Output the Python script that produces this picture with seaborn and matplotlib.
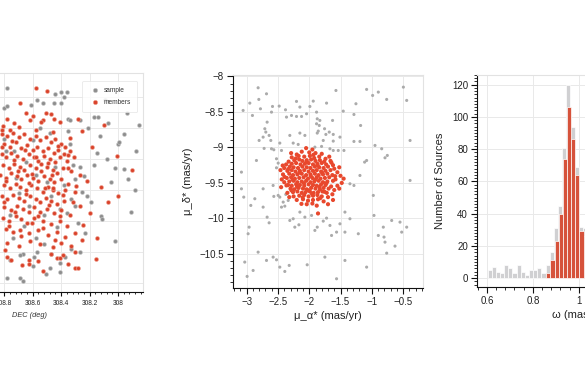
import numpy as np
import pandas as pd
import seaborn as sns
import matplotlib
matplotlib.use("Agg")
import matplotlib.pyplot as plt
from matplotlib.ticker import AutoMinorLocator, FuncFormatter, MultipleLocator

# ---------------- data ----------------
# Left panel: sample (gray) and members (red), DEC (deg) vs y
left_sample_dec = [308.78, 308.57, 308.61, 308.53, 308.45, 308.44, 308.40, 308.36, 308.38, 308.40, 308.80, 308.78,
                   308.35, 308.34, 308.27, 308.17, 308.14, 308.07, 308.13, 308.21, 308.00, 307.96, 307.99, 308.02,
                   307.955, 307.93, 307.91, 308.02, 308.12, 308.11, 308.22, 308.25, 308.27, 308.24, 308.30, 308.33,
                   308.30, 308.28, 308.23, 308.33, 308.27, 308.37, 308.41, 308.47, 308.52, 308.57, 308.67, 308.69,
                   308.76, 308.78, 308.69, 308.67, 308.51, 308.48, 308.41, 308.60, 308.59, 307.87, 307.88, 308.05,
                   308.08, 308.17, 308.19, 308.15, 308.35, 307.85, 307.94, 308.09, 308.80, 308.73, 308.65, 308.58,
                   308.50, 308.44, 308.38, 308.70, 308.63, 308.52, 308.47, 308.41, 308.76, 308.66, 308.58, 308.34,
                   308.32, 308.36, 308.79, 308.55, 308.48, 308.72, 308.60, 308.43, 308.74]
left_sample_y = [44.86, 44.78, 44.75, 44.76, 44.76, 44.82, 44.83, 44.83, 44.80, 44.76, 44.73, 44.74,
                 44.66, 44.65, 44.65, 44.67, 44.67, 44.63, 44.55, 44.60, 44.50, 44.56, 44.51, 44.34,
                 44.335, 44.27, 44.06, 43.87, 44.03, 44.01, 44.16, 44.19, 44.35, 44.29, 44.27, 44.14,
                 44.10, 43.99, 43.92, 43.82, 43.80, 43.77, 43.73, 43.79, 43.85, 43.80, 43.79, 43.78,
                 43.75, 43.63, 43.63, 43.61, 43.66, 43.70, 43.67, 43.71, 43.77, 44.45, 44.20, 44.25,
                 44.40, 44.36, 44.12, 44.44, 44.58, 44.62, 44.70, 44.78, 44.53, 44.45, 44.38, 44.30,
                 44.25, 44.35, 44.23, 44.18, 44.10, 44.04, 44.16, 44.08, 44.04, 43.97, 43.89, 44.50,
                 44.36, 44.05, 44.45, 44.60, 44.57, 44.28, 44.52, 43.96, 43.89]

left_member_dec = [308.58, 308.50, 308.69, 308.65, 308.60, 308.51, 308.47, 308.53, 308.54, 308.45, 308.41, 308.62, 308.78, 308.73, 308.81, 308.76,
                   308.82, 308.78, 308.74, 308.70, 308.66, 308.62, 308.58, 308.55, 308.51, 308.47, 308.44, 308.40, 308.37,
                   308.80, 308.76, 308.72, 308.68, 308.64, 308.60, 308.57, 308.53, 308.49, 308.45, 308.42, 308.38, 308.34,
                   308.82, 308.79, 308.75, 308.71, 308.67, 308.63, 308.59, 308.56, 308.52, 308.48, 308.44, 308.41, 308.36, 308.31,
                   308.81, 308.77, 308.73, 308.69, 308.66, 308.62, 308.58, 308.54, 308.50, 308.46, 308.43, 308.39, 308.33, 308.27,
                   308.83, 308.79, 308.75, 308.71, 308.68, 308.64, 308.60, 308.56, 308.52, 308.48, 308.45, 308.40, 308.35, 308.22,
                   308.80, 308.76, 308.72, 308.69, 308.65, 308.61, 308.57, 308.53, 308.49, 308.46, 308.42, 308.37, 308.30,
                   308.82, 308.78, 308.74, 308.70, 308.66, 308.62, 308.58, 308.55, 308.51, 308.47, 308.43, 308.38, 308.32,
                   308.80, 308.75, 308.71, 308.67, 308.63, 308.59, 308.55, 308.50, 308.45, 308.40, 308.34,
                   308.81, 308.77, 308.72, 308.68, 308.64, 308.59, 308.53, 308.47, 308.41, 308.36,
                   308.79, 308.74, 308.69, 308.63, 308.56, 308.49, 308.43, 308.37, 308.30,
                   308.78, 308.70, 308.62, 308.55, 308.46, 308.40, 308.33, 308.25,
                   308.78, 308.75, 308.63, 308.63, 308.53, 308.47, 308.43, 308.41, 308.39, 308.35, 308.30, 308.28, 308.30, 308.155,
                   307.90, 308.01, 308.00, 308.07, 308.15, 308.18, 308.12, 308.20, 308.25, 308.10, 308.28,
                   308.815, 308.735, 308.655, 308.575, 308.495, 308.425, 308.355, 308.785, 308.705, 308.625,
                   308.545, 308.465, 308.385, 308.805, 308.725, 308.645, 308.565, 308.485, 308.405, 308.765,
                   308.685, 308.605, 308.525, 308.445, 308.815, 308.695, 308.575, 308.455, 308.335, 308.295,
                   308.265, 308.245, 308.795, 308.675, 308.565, 308.515, 308.355, 308.745, 308.605, 308.455]
left_member_y = [44.86, 44.84, 44.76, 44.70, 44.68, 44.70, 44.69, 44.65, 44.64, 44.66, 44.64, 44.65, 44.66, 44.63, 44.61, 44.59,
                 44.56, 44.55, 44.57, 44.54, 44.56, 44.53, 44.55, 44.52, 44.54, 44.51, 44.53, 44.50, 44.48,
                 44.50, 44.48, 44.51, 44.47, 44.49, 44.46, 44.48, 44.45, 44.47, 44.44, 44.46, 44.43, 44.45,
                 44.43, 44.41, 44.44, 44.42, 44.40, 44.43, 44.41, 44.39, 44.42, 44.40, 44.38, 44.41, 44.39, 44.41,
                 44.36, 44.34, 44.37, 44.35, 44.33, 44.36, 44.34, 44.32, 44.35, 44.33, 44.31, 44.34, 44.32, 44.30,
                 44.30, 44.28, 44.31, 44.29, 44.27, 44.30, 44.28, 44.26, 44.29, 44.27, 44.25, 44.27, 44.24, 44.26,
                 44.23, 44.21, 44.24, 44.22, 44.20, 44.23, 44.21, 44.19, 44.22, 44.20, 44.18, 44.20, 44.19,
                 44.16, 44.14, 44.17, 44.15, 44.13, 44.16, 44.14, 44.12, 44.15, 44.13, 44.11, 44.13, 44.12,
                 44.09, 44.07, 44.10, 44.08, 44.06, 44.09, 44.06, 44.08, 44.05, 44.07, 44.04,
                 44.02, 44.00, 44.03, 44.01, 43.99, 44.02, 44.00, 43.98, 44.00, 43.97,
                 43.95, 43.93, 43.94, 43.92, 43.94, 43.91, 43.93, 43.90, 43.92,
                 43.86, 43.84, 43.87, 43.85, 43.83, 43.86, 43.84, 43.88,
                 43.77, 43.75, 43.75, 43.72, 43.68, 43.79, 43.76, 43.76, 43.78, 43.72, 43.70, 43.70, 43.80, 43.755,
                 44.33, 44.42, 44.16, 44.12, 43.89, 44.48, 44.22, 44.05, 44.58, 44.62, 44.66,
                 44.475, 44.395, 44.455, 44.415, 44.375, 44.485, 44.345, 44.255, 44.325, 44.245,
                 44.365, 44.295, 44.165, 44.125, 44.055, 44.175, 44.035, 44.105, 44.035, 43.965,
                 43.905, 43.985, 43.955, 43.875, 44.585, 44.605, 44.585, 44.575, 44.535, 44.225,
                 44.095, 43.975, 43.815, 43.715, 43.745, 44.215, 44.425, 44.515, 44.305, 44.215]

# Middle panel: proper motions
pm_sample_ra = [-2.818, -2.684, -2.951, -2.807, -3.058, -2.909, -2.781, -2.588, -2.481, -2.604, -2.380, -2.204, -2.150,
                -1.990, -1.936, -1.723, -1.573, -1.253, -1.082, -0.986, -0.895, -0.761, -0.494, -0.441, -2.364, -2.284,
                -2.204, -2.123, -2.043, -1.883, -1.627, -1.456, -1.285, -2.674, -2.711, -2.695, -2.642, -2.802, -2.738,
                -2.615, -2.471, -2.311, -2.150, -2.070, -1.883, -1.840, -1.856, -1.755, -1.680, -1.616, -1.734, -1.776,
                -1.872, -1.616, -1.285, -1.189, -1.178, -1.872, -1.830, -1.509, -2.722, -2.604, -2.567, -2.444, -2.845,
                -2.524, -2.497, -2.524, -2.257, -2.177, -1.910, -1.803, -1.669, -1.616, -1.536, -1.445, -0.948, -0.841,
                -0.788, -0.751, -1.082, -1.114, -1.189, -1.285, -1.349, -3.085, -3.085, -3.048, -2.935, -2.871, -2.738,
                -2.738, -2.674, -2.642, -2.578, -2.567, -2.497, -2.471, -2.444, -2.417, -2.391, -2.375, -2.337, -2.311,
                -2.257, -2.231, -2.166, -2.150, -2.070, -1.963, -1.910, -1.872, -1.776, -1.723, -1.669, -1.643, -1.563,
                -1.509, -1.429, -1.429, -1.349, -1.215, -0.975, -0.964, -0.895, -0.815, -0.804, -0.788, -0.761, -0.681,
                -0.628, -0.548, -0.521, -0.441, -0.387, -0.387, -2.978, -2.962, -2.818, -2.684, -2.578, -2.524, -2.471,
                -2.391, -2.321, -2.033, -1.750, -1.563, -1.429, -1.082, -3.032, -2.994, -2.898]
pm_sample_dec = [-8.160, -8.245, -8.376, -8.324, -8.479, -8.550, -8.456, -8.423, -8.418, -8.503, -8.470, -8.352, -8.432,
                 -8.423, -8.348, -8.376, -8.198, -8.385, -8.183, -8.268, -8.221, -8.324, -8.151, -8.338, -8.573, -8.550,
                 -8.564, -8.564, -8.526, -8.503, -8.620, -8.489, -8.536, -8.644, -8.737, -8.784, -8.831, -8.902, -8.855,
                 -8.902, -8.939, -8.831, -8.798, -8.831, -8.667, -8.691, -8.770, -8.737, -8.784, -8.817, -8.817, -8.902,
                 -8.798, -8.911, -8.916, -8.916, -8.691, -8.597, -8.620, -8.855, -9.014, -9.019, -9.033, -9.043, -9.184,
                 -9.160, -9.221, -9.287, -8.939, -8.958, -8.996, -8.986, -9.019, -9.043, -9.043, -9.043, -8.972, -9.019,
                 -9.146, -9.113, -9.184, -9.207, -9.395, -9.536, -9.512, -9.348, -9.583, -9.700, -9.817, -9.723, -9.583,
                 -9.841, -9.982, -10.062, -9.536, -9.690, -9.676, -9.700, -9.841, -9.770, -9.827, -9.662, -9.747, -10.029,
                 -10.005, -10.123, -10.090, -9.911, -9.982, -9.958, -10.169, -10.123, -10.038, -9.996, -10.099, -10.240, -10.193,
                 -10.076, -9.911, -10.193, -10.005, -10.216, -9.676, -9.958, -10.240, -10.123, -10.263, -10.334, -10.489, -10.029,
                 -10.390, -10.052, -10.193, -10.123, -8.902, -9.465, -10.216, -10.123, -10.475, -10.592, -10.545, -10.583, -10.686,
                 -10.747, -10.662, -10.653, -10.545, -10.850, -10.592, -10.686, -10.615, -10.817, -10.733]

pm_member_ra = [-2.05, -1.95, -2.12, -1.90, -2.00, -2.20, -1.80,
                -2.28, -2.17, -2.08, -1.99, -1.92, -1.84, -1.74,
                -2.33, -2.24, -2.16, -2.11, -2.04, -1.97, -1.90, -1.83, -1.76, -1.66,
                -2.37, -2.28, -2.21, -2.14, -2.07, -2.01, -1.94, -1.87, -1.80, -1.73, -1.62,
                -2.40, -2.31, -2.25, -2.18, -2.11, -2.04, -1.98, -1.91, -1.84, -1.77, -1.70, -1.60,
                -2.35, -2.28, -2.22, -2.15, -2.08, -2.01, -1.94, -1.88, -1.81, -1.74, -1.66, -1.55,
                -2.42, -2.32, -2.26, -2.19, -2.12, -2.05, -1.98, -1.91, -1.85, -1.78, -1.71, -1.63, -1.50,
                -2.36, -2.29, -2.23, -2.16, -2.09, -2.02, -1.95, -1.88, -1.82, -1.75, -1.68, -1.58,
                -2.40, -2.32, -2.25, -2.19, -2.12, -2.05, -1.98, -1.92, -1.85, -1.78, -1.71, -1.62, -1.48,
                -2.34, -2.28, -2.21, -2.15, -2.08, -2.01, -1.94, -1.88, -1.81, -1.74, -1.65, -1.55,
                -2.30, -2.24, -2.17, -2.10, -2.04, -1.97, -1.90, -1.83, -1.77, -1.69, -1.60,
                -2.35, -2.26, -2.19, -2.12, -2.06, -1.99, -1.93, -1.86, -1.79, -1.72, -1.63,
                -2.25, -2.16, -2.08, -2.01, -1.94, -1.87, -1.80, -1.70,
                -2.20, -2.10, -2.02, -1.94, -1.86, -1.77,
                -2.04, -1.95, -1.88,
                -1.86, -1.70, -2.46, -2.44, -1.52, -1.45, -1.52, -2.29, -1.68, -2.32, -1.62, -2.45,
                -2.215, -2.045, -1.865, -2.335, -2.155, -1.975, -1.795, -2.265, -2.085, -1.905, -1.725, -2.195,
                -2.015, -1.835, -2.285, -1.955, -2.105, -1.825, -2.395, -1.585, -1.645, -2.425, -1.935, -2.125,
                -1.755, -2.365]
pm_member_dec = [-9.01, -9.03, -9.06, -9.08, -9.07, -9.10, -9.09,
                 -9.14, -9.12, -9.13, -9.12, -9.15, -9.13, -9.16,
                 -9.20, -9.18, -9.17, -9.19, -9.18, -9.17, -9.19, -9.18, -9.20, -9.19,
                 -9.24, -9.23, -9.22, -9.24, -9.23, -9.22, -9.24, -9.23, -9.22, -9.24, -9.25,
                 -9.29, -9.27, -9.28, -9.29, -9.27, -9.28, -9.29, -9.27, -9.28, -9.29, -9.27, -9.30,
                 -9.33, -9.32, -9.34, -9.33, -9.32, -9.34, -9.33, -9.32, -9.34, -9.33, -9.32, -9.35,
                 -9.38, -9.37, -9.39, -9.38, -9.37, -9.39, -9.38, -9.37, -9.39, -9.38, -9.37, -9.39, -9.40,
                 -9.43, -9.42, -9.44, -9.43, -9.42, -9.44, -9.43, -9.42, -9.44, -9.43, -9.42, -9.45,
                 -9.49, -9.48, -9.47, -9.49, -9.48, -9.47, -9.49, -9.48, -9.47, -9.49, -9.48, -9.47, -9.50,
                 -9.53, -9.54, -9.52, -9.53, -9.54, -9.52, -9.53, -9.54, -9.52, -9.53, -9.55, -9.54,
                 -9.58, -9.59, -9.57, -9.58, -9.59, -9.57, -9.58, -9.59, -9.57, -9.58, -9.60,
                 -9.64, -9.63, -9.62, -9.64, -9.63, -9.62, -9.64, -9.63, -9.62, -9.64, -9.66,
                 -9.69, -9.68, -9.67, -9.69, -9.68, -9.67, -9.69, -9.70,
                 -9.74, -9.73, -9.75, -9.74, -9.73, -9.76,
                 -9.80, -9.79, -9.82,
                 -9.93, -9.80, -9.32, -9.45, -9.28, -9.44, -9.58, -9.08, -9.13, -9.70, -9.74, -9.56,
                 -9.155, -9.205, -9.255, -9.305, -9.355, -9.405, -9.355, -9.455, -9.505, -9.455, -9.505, -9.555,
                 -9.605, -9.555, -9.605, -9.655, -9.705, -9.715, -9.415, -9.405, -9.215, -9.255, -9.105, -9.795,
                 -9.625, -9.535]

# Right panel: parallax histogram counts
sample_bin_start = 0.603
member_bin_start = 0.858
bin_width = 0.018
sample_counts = [5, 7, 4, 3, 8, 6, 3, 8, 4, 2, 5, 5, 6, 3, 8, 16, 31, 45, 81, 120, 94, 69, 32, 31]
member_counts = [3, 11, 23, 40, 74, 106, 86, 64, 29, 26]

# ---------------- style ----------------
sns.set_theme(style="whitegrid")
plt.rcParams['font.family'] = ['Liberation Sans', 'DejaVu Sans']
plt.rcParams['axes.unicode_minus'] = True

W, H = 585, 390
fig = plt.figure(figsize=(W / 100, H / 100), dpi=100)
fig.patch.set_facecolor('white')


def box(x0, y0, x1, y1):
    return [x0 / W, 1 - y1 / H, (x1 - x0) / W, (y1 - y0) / H]


fmt = FuncFormatter(lambda v, p: f"{v:g}".replace('-', '\u2212'))
# the left panel extends past the picture's left edge: only label ticks that can show
fmt_left = FuncFormatter(lambda v, p: f"{v:g}" if v < 308.9 else "")


def style(ax, fs, nminor_x=5, nminor_y=5):
    ax.set_facecolor('white')
    for s in ['top', 'right']:
        ax.spines[s].set_color('#e2e2e2')
        ax.spines[s].set_linewidth(0.8)
    for s in ['left', 'bottom']:
        ax.spines[s].set_color('#111111')
        ax.spines[s].set_linewidth(0.8)
    ax.grid(True, which='major', color='#e9e9e9', linewidth=0.7)
    ax.set_axisbelow(True)
    ax.xaxis.set_minor_locator(AutoMinorLocator(nminor_x))
    ax.yaxis.set_minor_locator(AutoMinorLocator(nminor_y))
    ax.tick_params(which='major', direction='out', length=4, width=0.8, color='#111111',
                   labelsize=fs, labelcolor='#222222', bottom=True, left=True, pad=2.5)
    ax.tick_params(which='minor', direction='out', length=2, width=0.6, color='#111111',
                   bottom=True, left=True)
    ax.xaxis.set_major_formatter(fmt)
    ax.yaxis.set_major_formatter(fmt)


# ---- left panel ----
ax1 = fig.add_axes(box(-83, 73, 143, 292))
sns.scatterplot(x=left_sample_dec, y=left_sample_y, ax=ax1, color='#8e8e8e', s=8,
                edgecolor='#c8c8c8', linewidth=0.4, label='sample', zorder=3)
sns.scatterplot(x=left_member_dec, y=left_member_y, ax=ax1, color='#d9432b', s=8,
                edgecolor='#f0a090', linewidth=0.4, label='members', zorder=4)
ax1.set_xlim(309.415, 307.824)
ax1.set_ylim(43.542, 44.955)
ax1.xaxis.set_major_locator(MultipleLocator(0.2))
ax1.yaxis.set_major_locator(MultipleLocator(0.2))
style(ax1, 4.7)
ax1.xaxis.set_major_formatter(fmt_left)
ax1.tick_params(which='major', length=3)
ax1.tick_params(which='minor', length=1.5)
ax1.tick_params(axis='y', which='both', left=False, labelleft=False)
ax1.set_xlabel('DEC (deg)', fontsize=5.3, fontstyle='italic', color='#333333', labelpad=4)
ax1.set_ylabel('')
leg = ax1.legend(loc='upper right', bbox_to_anchor=((137 + 83) / 226, 0.963), borderaxespad=0,
                 fontsize=4.7, frameon=True, markerscale=1.1, handletextpad=0.4,
                 borderpad=0.9, labelspacing=0.8)
leg.get_frame().set_edgecolor('#e3e3e3')
leg.get_frame().set_linewidth(0.6)
for t in leg.get_texts():
    t.set_color('#333333')

# ---- middle panel ----
ax2 = fig.add_axes(box(233, 75, 423, 288))
sns.scatterplot(x=pm_sample_ra, y=pm_sample_dec, ax=ax2, color='#ababab', s=5,
                edgecolor='none', linewidth=0, legend=False, zorder=3)
sns.scatterplot(x=pm_member_ra, y=pm_member_dec, ax=ax2, color='#e8482d', s=9,
                edgecolor='none', linewidth=0, legend=False, zorder=4)
ax2.set_xlim(-3.22, -0.18)
ax2.set_ylim(-10.98, -7.98)
ax2.xaxis.set_major_locator(MultipleLocator(0.5))
ax2.yaxis.set_major_locator(MultipleLocator(0.5))
style(ax2, 7)
ax2.set_xlabel('μ_α* (mas/yr)', fontsize=8, color='#222222', labelpad=3)
ax2.set_ylabel('μ_δ* (mas/yr)', fontsize=8, color='#222222', labelpad=5)

# ---- right panel ----
ax3 = fig.add_axes(box(477, 75, 667, 287))
s_edges = [sample_bin_start + bin_width * k for k in range(len(sample_counts) + 1)]
m_edges = [member_bin_start + bin_width * k for k in range(len(member_counts) + 1)]
df_s = pd.DataFrame({'omega': [(a + b) / 2 for a, b in zip(s_edges[:-1], s_edges[1:])],
                     'n': sample_counts})
df_m = pd.DataFrame({'omega': [(a + b) / 2 for a, b in zip(m_edges[:-1], m_edges[1:])],
                     'n': member_counts})
sns.histplot(data=df_s, x='omega', weights='n', bins=s_edges, ax=ax3, color='#d0d0d2',
             edgecolor='white', linewidth=0.5, alpha=1, zorder=3)
sns.histplot(data=df_m, x='omega', weights='n', bins=m_edges, ax=ax3, color='#d6523b',
             edgecolor='white', linewidth=0.5, alpha=1, zorder=4)
ax3.set_xlim(0.557, 1.383)
ax3.set_ylim(-5.5, 126)
ax3.xaxis.set_major_locator(MultipleLocator(0.2))
ax3.yaxis.set_major_locator(MultipleLocator(20))
style(ax3, 7, nminor_x=5, nminor_y=10)
ax3.set_xlabel('ω (mas)', fontsize=8, color='#222222', labelpad=3)
ax3.set_ylabel('Number of Sources', fontsize=8, color='#222222', labelpad=5)

fig.savefig('out.png', dpi=100, facecolor='white')
